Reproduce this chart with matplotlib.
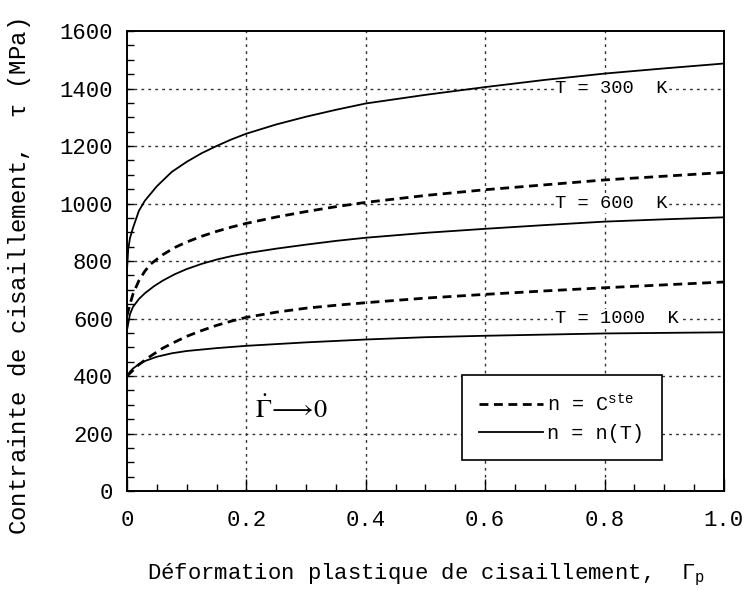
import matplotlib.pyplot as plt
from matplotlib.lines import Line2D
from matplotlib.ticker import MultipleLocator

plt.rcParams['font.family'] = ['Liberation Mono', 'DejaVu Sans Mono']
plt.rcParams['mathtext.fontset'] = 'custom'
plt.rcParams['mathtext.rm'] = 'Liberation Mono'
plt.rcParams['mathtext.it'] = 'Liberation Mono'

# courbes (Gamma_p, tau en MPa)
x_300 = [0, 0.002, 0.005, 0.01, 0.02, 0.03, 0.05, 0.075, 0.1, 0.125, 0.15, 0.175, 0.2,
         0.25, 0.3, 0.35, 0.4, 0.5, 0.6, 0.7, 0.8, 0.9, 1.0]
tau_300 = [770, 840, 880, 915, 975, 1010, 1060, 1110, 1145, 1175, 1200, 1223, 1243,
           1275, 1302, 1326, 1348, 1378, 1405, 1430, 1452, 1470, 1487]

x_600_cste = [0, 0.005, 0.01, 0.02, 0.03, 0.04, 0.06, 0.08, 0.1, 0.125, 0.15, 0.175, 0.2,
              0.25, 0.3, 0.35, 0.4, 0.5, 0.6, 0.7, 0.8, 0.9, 1.0]
tau_600_cste = [610, 650, 685, 732, 765, 790, 822, 847, 866, 886, 903, 918, 931,
                953, 972, 989, 1004, 1028, 1048, 1065, 1082, 1095, 1108]

x_600 = [0, 0.005, 0.01, 0.02, 0.03, 0.045, 0.06, 0.08, 0.1, 0.125, 0.15, 0.175, 0.2,
         0.25, 0.3, 0.35, 0.4, 0.5, 0.6, 0.7, 0.8, 0.9, 1.0]
tau_600 = [560, 615, 640, 668, 688, 712, 732, 754, 772, 790, 805, 817, 827,
           843, 857, 870, 881, 898, 912, 925, 937, 945, 952]

x_1000_cste = [0, 0.01, 0.02, 0.04, 0.06, 0.08, 0.1, 0.125, 0.15, 0.175, 0.2,
               0.25, 0.3, 0.35, 0.4, 0.5, 0.6, 0.7, 0.8, 0.9, 1.0]
tau_1000_cste = [400, 420, 440, 470, 497, 518, 538, 558, 576, 591, 604,
                 622, 636, 646, 655, 671, 684, 696, 707, 717, 727]

x_1000 = [0, 0.005, 0.01, 0.02, 0.03, 0.05, 0.075, 0.1, 0.15, 0.2, 0.3, 0.4, 0.5, 0.6, 0.7, 0.8, 0.9, 1.0]
tau_1000 = [400, 415, 426, 441, 452, 467, 479, 487, 497, 505, 517, 527, 535, 540, 544, 548, 550, 552]

x_ticks = [0, 0.2, 0.4, 0.6, 0.8, 1.0]
x_tick_labels = ['0', '0.2', '0.4', '0.6', '0.8', '1.0']
y_ticks = [0, 200, 400, 600, 800, 1000, 1200, 1400, 1600]

fig = plt.figure(figsize=(7.44, 5.91), dpi=100)
ax = fig.add_axes([0.1707, 0.1692, 0.8023, 0.7783])

dash = (0, (3.2, 2))
ax.plot(x_300, tau_300, color='black', lw=1.3)
ax.plot(x_600_cste, tau_600_cste, color='black', lw=2, linestyle=dash)
ax.plot(x_600, tau_600, color='black', lw=1.3)
ax.plot(x_1000_cste, tau_1000_cste, color='black', lw=2, linestyle=dash)
ax.plot(x_1000, tau_1000, color='black', lw=1.3)

ax.set_xlim(0, 1.0)
ax.set_ylim(0, 1600)
ax.set_xticks(x_ticks)
ax.set_xticklabels(x_tick_labels)
ax.set_yticks(y_ticks)
ax.xaxis.set_minor_locator(MultipleLocator(0.05))
ax.yaxis.set_minor_locator(MultipleLocator(50))
ax.tick_params(which='major', direction='in', length=9, width=1, labelsize=16)
ax.tick_params(axis='x', which='major', pad=14)
ax.tick_params(axis='y', which='major', length=5, pad=10)
ax.tick_params(which='minor', direction='in', length=5, width=1)
for s in ax.spines.values():
    s.set_linewidth(1.4)

# grille pointillée (pas sur les bords)
for xv in x_ticks[1:-1]:
    ax.axvline(xv, color='#333333', lw=1, linestyle=(0, (2, 3)), zorder=0)
for yv in y_ticks[1:-1]:
    ax.axhline(yv, color='#333333', lw=1, linestyle=(0, (2, 3)), zorder=0)

box = dict(facecolor='white', edgecolor='none', pad=1)
ax.text(0.812, 1400, 'T = 300  K', ha='center', va='center', fontsize=13.5, bbox=box, zorder=1)
ax.text(0.812, 1000, 'T = 600  K', ha='center', va='center', fontsize=13.5, bbox=box, zorder=1)
ax.text(0.82, 600, 'T = 1000  K', ha='center', va='center', fontsize=13.5, bbox=box, zorder=1)
ax.text(0.276, 285, r'$\dot{\Gamma}\!\longrightarrow\!0$', ha='center', va='center',
        fontsize=19, math_fontfamily='stix')

handles = [Line2D([], [], color='black', lw=2, linestyle=dash),
           Line2D([], [], color='black', lw=1.3)]
leg = ax.legend(handles, [r'n = C$^{\mathrm{ste}}$', 'n = n(T)'], loc='lower left',
                bbox_to_anchor=(0.561, 0.067), borderaxespad=0, fontsize=14.5,
                handlelength=3.2, handletextpad=0.2, borderpad=0.85, labelspacing=0.45,
                fancybox=False, framealpha=1, edgecolor='black')
leg.get_frame().set_linewidth(1.2)

ax.set_xlabel(r'Déformation plastique de cisaillement,  $\Gamma_{\mathrm{p}}$', fontsize=16, labelpad=22)
ax.set_ylabel(r'Contrainte de cisaillement,  $\tau$ (MPa)', fontsize=17.3)
ax.yaxis.set_label_coords(-0.158, 0.466)

fig.savefig('out.png', dpi=100)
